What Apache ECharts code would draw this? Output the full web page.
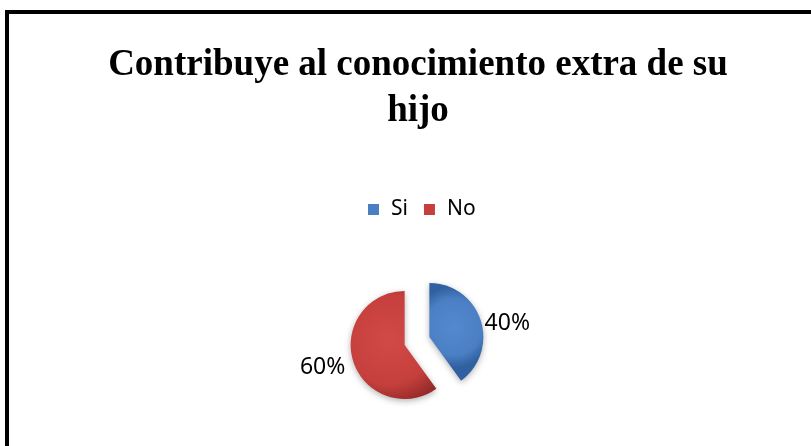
<!DOCTYPE html>
<html>
<head>
<meta charset="utf-8">
<script src="https://cdn.jsdelivr.net/npm/echarts@6/dist/echarts.min.js"></script>
<style>
  html, body { margin: 0; padding: 0; background: #fff; }
  #chart { width: 811px; height: 446px; }
</style>
</head>
<body>
<div id="chart"></div>
<script>
// data
const categories = ['Si', 'No']
const values = [40, 60]
const titleText = 'Contribuye al conocimiento extra de su\nhijo'

const myChart = echarts.init(document.getElementById('chart'))

// slice colours: centre, body, edge (office bevel look)
const sliceColors = [
  ['#5489cf', '#4a7fc4', '#30609f'],
  ['#d24a47', '#c53f3c', '#962c29']
]
const bevel = (c) => new echarts.graphic.RadialGradient(0.45, 0.45, 0.75, [
  { offset: 0, color: c[0] },
  { offset: 0.7, color: c[1] },
  { offset: 1, color: c[2] }
])
// small nudges for the percent labels
const labelShift = [[2, 4], [-6, 5]]

const option = {
  backgroundColor: '#fff',
  animation: false,
  title: {
    text: titleText,
    left: 413,
    textAlign: 'center',
    top: 37,
    textStyle: {
      fontFamily: 'Liberation Serif',
      fontWeight: 'bold',
      fontSize: 37,
      lineHeight: 46,
      color: '#000'
    }
  },
  legend: {
    top: 194,
    left: 363,
    itemWidth: 11,
    itemHeight: 11,
    itemGap: 16,
    icon: 'rect',
    textStyle: {
      fontFamily: 'Noto Sans',
      fontSize: 21,
      color: '#000',
      padding: [0, 0, 0, 7]
    }
  },
  graphic: [{
    type: 'rect',
    shape: { x: 7, y: 12, width: 830, height: 460 },
    style: { fill: 'none', stroke: '#000', lineWidth: 4 },
    silent: true
  }],
  series: [{
    type: 'pie',
    center: [417, 341],
    radius: 54,
    startAngle: 90,
    clockwise: true,
    selectedMode: 'multiple',
    selectedOffset: 13,
    avoidLabelOverlap: false,
    itemStyle: {
      shadowBlur: 6,
      shadowColor: 'rgba(0,0,0,0.3)',
      shadowOffsetY: 2
    },
    label: {
      show: true,
      position: 'outside',
      formatter: '{d}%',
      fontFamily: 'Noto Sans',
      fontSize: 23,
      color: '#000',
      distanceToLabelLine: 0
    },
    labelLine: { show: false, length: 2, length2: 0 },
    labelLayout: function (params) {
      const s = labelShift[params.dataIndex]
      return { dx: s[0], dy: s[1] }
    },
    emphasis: { disabled: true },
    select: { itemStyle: { borderWidth: 0 } },
    data: categories.map((name, i) => ({
      name: name,
      value: values[i],
      selected: true,
      itemStyle: { color: bevel(sliceColors[i]) }
    }))
  }]
}

// legend markers take the flat colour
option.legend.data = categories.map((name, i) => ({
  name: name,
  itemStyle: { color: sliceColors[i][1] }
}))

myChart.setOption(option)
window.onresize = function () {
  myChart.resize()
}
</script>
</body>
</html>
